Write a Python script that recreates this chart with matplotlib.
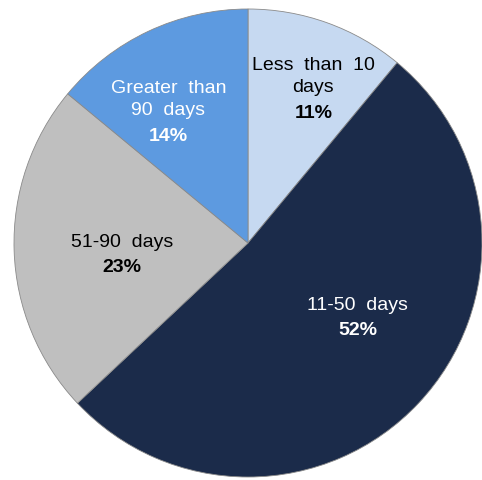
import numpy as np
import matplotlib
matplotlib.use("Agg")
import matplotlib.pyplot as plt

plt.rcParams['font.family'] = ['Liberation Sans', 'DejaVu Sans']

labels = ["Less  than  10\ndays", "11-50  days", "51-90  days", "Greater  than\n90  days"]
shares = [11, 52, 23, 14]
colors = ["#c6d9f1", "#1b2b4a", "#bfbfbf", "#5d9ae0"]
text_colors = ["black", "white", "black", "white"]
# label distance from centre and small angle nudge (degrees) per slice
label_r = [0.72, 0.565, 0.54, 0.66]
label_nudge = [-3.0, 9.2, 3.2, 5.8]

fig = plt.figure(figsize=(4.82, 4.81), dpi=100)
ax = fig.add_axes([14 / 482, 3 / 481, 468 / 482, 468 / 481])

wedges, _ = ax.pie(shares, colors=colors, startangle=90, counterclock=False,
                   radius=1.0,
                   wedgeprops=dict(edgecolor="#8a8a8a", linewidth=0.6))

step = 8.8  # half line height in points
for w, lab, pct, tc, r, nd in zip(wedges, labels, shares, text_colors, label_r, label_nudge):
    mid = np.deg2rad((w.theta1 + w.theta2) / 2 + nd)
    x, y = r * np.cos(mid), r * np.sin(mid)
    n_lines = lab.count("\n") + 1
    ax.annotate(lab, (x, y), xytext=(0, step), textcoords="offset points",
                ha="center", va="center", fontsize=14, color=tc, linespacing=1.4)
    ax.annotate(f"{pct}%", (x, y), xytext=(0, -step * n_lines), textcoords="offset points",
                ha="center", va="center", fontsize=14, fontweight="bold", color=tc)

ax.set_xlim(-1, 1)
ax.set_ylim(-1, 1)
ax.set_aspect("auto")
ax.axis("off")

fig.savefig("out.png", dpi=100)
